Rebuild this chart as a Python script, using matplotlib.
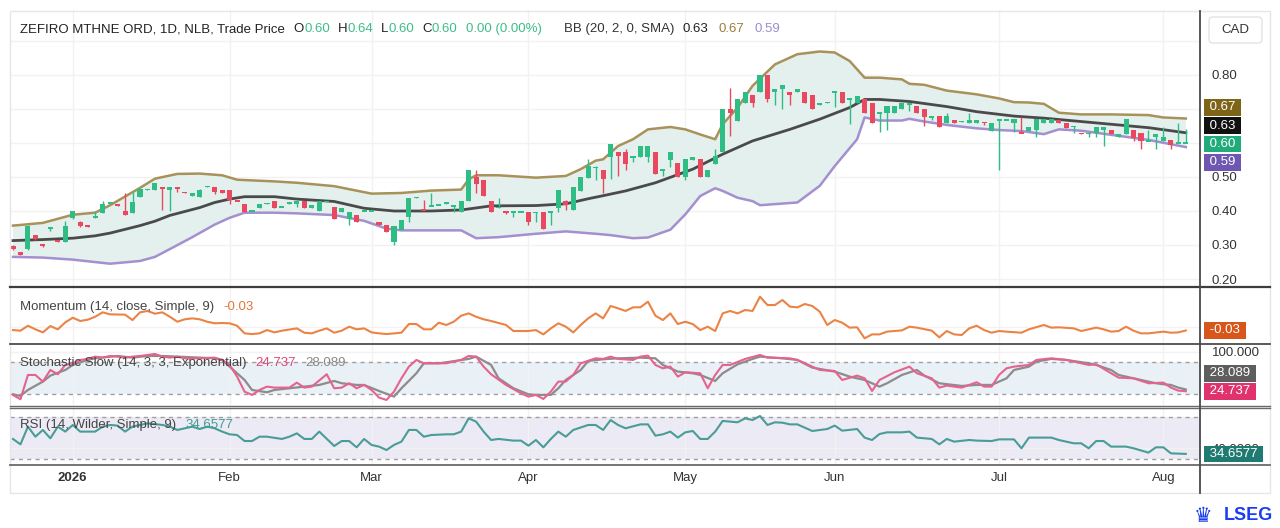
import numpy as np
import matplotlib.pyplot as plt
from matplotlib.lines import Line2D
from matplotlib.patches import Rectangle, FancyBboxPatch
from matplotlib.transforms import blended_transform_factory

plt.rcParams['font.family'] = ['Liberation Sans', 'DejaVu Sans']
plt.rcParams['font.size'] = 9.5

W, H = 1280, 528

# daily candles, one per trading bar (bar 0 = mid Dec 2025, bar 157 = 6 Aug 2026)
opens = [.298, .278, .288, .328, .302, .349, .312, .31, .378, .368,
         .356, .378, .395, .423, .42, .40, .395, .442, .462, .463,
         .468, .463, .468, .455, .445, .442, .471, .472, .463, .463,
         .431, .42, .399, .41, .421, .43, .411, .422, .42, .43,
         .408, .40, .427, .413, .398, .376, .388, .40, .399, .368,
         .358, .308, .345, .383, .439, .404, .414, .417, .42, .413,
         .398, .428, .50, .49, .43, .409, .399, .397, .397, .398,
         .395, .398, .397, .408, .428, .403, .46, .498, .525, .52,
         .559, .572, .572, .558, .559, .559, .572, .519, .549, .542,
         .50, .549, .552, .50, .539, .572, .70, .665, .718, .74,
         .75, .80, .75, .76, .75, .75, .75, .74, .711, .718,
         .749, .75, .729, .719, .728, .719, .688, .687, .687, .70,
         .714, .709, .70, .676, .679, .658, .668, .662, .66, .658,
         .661, .635, .667, .667, .66, .631, .635, .638, .66, .66,
         .668, .66, .647, .629, .627, .628, .638, .638, .617, .627,
         .638, .628, .605, .617, .606, .609, .599, .60]
highs = [.30, .28, .36, .33, .302, .352, .312, .37, .40, .37,
         .357, .40, .43, .427, .42, .452, .455, .466, .465, .482,
         .469, .472, .468, .455, .453, .464, .474, .472, .463, .463,
         .431, .42, .402, .42, .423, .43, .413, .424, .43, .43,
         .418, .43, .43, .413, .408, .398, .388, .402, .401, .368,
         .358, .355, .373, .438, .441, .433, .453, .419, .426, .416,
         .43, .521, .521, .49, .43, .438, .399, .399, .399, .398,
         .397, .398, .399, .461, .433, .471, .50, .553, .532, .52,
         .598, .572, .582, .56, .591, .591, .572, .521, .572, .542,
         .552, .559, .552, .52, .581, .70, .763, .728, .75, .74,
         .80, .80, .76, .77, .75, .76, .75, .74, .719, .72,
         .751, .75, .731, .738, .728, .719, .69, .709, .709, .719,
         .716, .709, .70, .678, .679, .687, .668, .664, .687, .668,
         .661, .66, .669, .669, .67, .677, .648, .67, .67, .67,
         .668, .66, .649, .629, .629, .648, .648, .638, .627, .67,
         .638, .628, .638, .627, .648, .609, .66, .64]
lows = [.285, .27, .285, .315, .295, .34, .31, .31, .375, .352,
        .353, .378, .395, .423, .415, .388, .395, .442, .462, .463,
        .402, .40, .455, .453, .445, .442, .471, .45, .452, .422,
        .429, .398, .398, .41, .421, .41, .411, .422, .412, .408,
        .408, .40, .426, .376, .398, .358, .368, .40, .399, .358,
        .338, .30, .345, .368, .439, .402, .414, .417, .42, .398,
        .398, .428, .453, .443, .398, .409, .391, .381, .397, .358,
        .368, .348, .358, .398, .403, .403, .46, .498, .49, .454,
        .493, .503, .52, .543, .559, .543, .51, .503, .53, .50,
        .49, .549, .50, .50, .539, .572, .621, .665, .718, .705,
        .75, .72, .713, .70, .713, .75, .719, .70, .711, .718,
        .705, .719, .655, .719, .689, .66, .633, .638, .687, .70,
        .694, .687, .651, .667, .648, .658, .658, .662, .66, .658,
        .654, .635, .52, .667, .633, .629, .635, .618, .66, .66,
        .658, .645, .63, .627, .618, .618, .59, .627, .617, .627,
        .606, .581, .605, .581, .606, .581, .599, .60]
closes = [.288, .272, .357, .317, .30, .351, .31, .357, .399, .357,
          .354, .385, .42, .425, .415, .388, .425, .465, .464, .481,
          .466, .472, .466, .453, .452, .462, .473, .457, .452, .433,
          .429, .398, .401, .42, .423, .41, .413, .424, .43, .41,
          .418, .43, .429, .376, .408, .398, .368, .402, .401, .358,
          .338, .355, .373, .438, .441, .402, .416, .419, .426, .416,
          .43, .521, .478, .443, .398, .411, .397, .399, .399, .368,
          .397, .348, .399, .461, .418, .471, .50, .533, .53, .493,
          .598, .562, .539, .56, .591, .591, .51, .521, .572, .50,
          .552, .559, .50, .52, .562, .70, .689, .728, .75, .719,
          .80, .73, .76, .77, .74, .76, .719, .70, .719, .72,
          .751, .719, .731, .738, .689, .66, .69, .709, .709, .719,
          .716, .687, .677, .678, .648, .679, .658, .664, .668, .668,
          .659, .66, .669, .669, .67, .629, .648, .67, .67, .67,
          .658, .645, .649, .627, .629, .648, .648, .627, .627, .67,
          .616, .606, .607, .627, .617, .594, .601, .60]

# Bollinger Bands (20, 2): (bar, value)
bb_up_x = [0, 4, 8, 11, 13, 17, 19, 22, 25, 28, 30, 35, 38, 43, 48, 52, 56, 60, 61, 62,
           65, 70, 74, 76, 78, 79, 81, 83, 85, 88, 90, 92, 94, 95, 97, 99, 102, 105, 108, 110,
           112, 114, 116, 119, 120, 122, 125, 129, 132, 134, 136, 138, 140, 143, 147, 152, 154, 157]
bb_up = [.357, .365, .389, .395, .417, .468, .495, .509, .51, .505, .492, .487, .483, .473, .451, .453, .46, .463, .493, .505,
         .505, .498, .503, .523, .548, .552, .591, .611, .64, .647, .64, .625, .611, .655, .704, .768, .831, .861, .869, .866,
         .841, .792, .792, .787, .774, .771, .754, .743, .731, .72, .719, .715, .689, .684, .684, .682, .675, .672]
bb_mid_x = [0, 4, 8, 11, 13, 17, 19, 21, 25, 27, 29, 31, 35, 38, 43, 47, 51, 56, 60, 64,
            70, 74, 77, 79, 82, 86, 91, 95, 99, 104, 108, 112, 114, 116, 120, 125, 129, 134, 138, 143,
            147, 152, 157]
bb_mid = [.313, .316, .32, .327, .335, .357, .37, .387, .41, .425, .435, .442, .442, .435, .428, .408, .40, .40, .403, .415,
          .416, .421, .436, .445, .459, .483, .523, .567, .606, .64, .67, .704, .728, .728, .722, .707, .692, .679, .673, .663,
          .655, .645, .63]
bb_lo_x = [0, 4, 8, 13, 17, 19, 21, 24, 27, 29, 31, 35, 38, 43, 47, 50, 52, 60, 62, 65,
           70, 74, 78, 80, 83, 85, 88, 90, 92, 94, 95, 97, 99, 100, 105, 108, 110, 113, 114, 116,
           119, 120, 122, 125, 129, 132, 135, 138, 140, 143, 147, 152, 157]
bb_lo = [.265, .263, .257, .245, .253, .265, .288, .323, .36, .38, .395, .395, .393, .388, .371, .348, .343, .343, .32, .323,
         .333, .34, .333, .329, .32, .322, .345, .39, .444, .467, .459, .439, .429, .417, .425, .474, .532, .611, .675, .666,
         .666, .671, .663, .653, .643, .638, .635, .626, .64, .636, .624, .609, .588]

# Momentum (14): (bar, value)
mom_pts = [(0, -.026), (1, -.032), (2, .015), (3, -.019), (4, -.048), (5, .012), (6, -.019), (7, .047), (8, .091),
           (9, .060), (10, .072), (11, .100), (12, .142), (13, .123), (15, .120), (16, .069), (17, .142), (18, .155),
           (19, .129), (20, .142), (21, .100), (22, .053), (23, .076), (24, .085), (25, .076), (26, .053), (27, .038),
           (28, .041), (29, .038), (30, .015), (31, -.057), (32, -.064), (33, -.057), (34, -.026), (35, -.048),
           (36, -.032), (38, -.010), (39, -.051), (40, -.057), (41, -.032), (42, -.010), (43, -.051), (44, -.032),
           (45, .006), (46, -.019), (47, -.010), (48, -.048), (49, -.057), (50, -.064), (52, -.051), (53, .031),
           (54, .031), (55, -.019), (56, -.019), (57, .044), (58, .022), (59, .053), (60, .110), (61, .132), (62, .100),
           (63, .076), (64, .060), (66, .022), (67, -.035), (69, -.035), (70, -.026), (71, -.067), (72, -.010),
           (73, .038), (74, .006), (75, -.048), (76, .022), (77, .085), (78, .132), (79, .085), (80, .202), (81, .180),
           (82, .155), (83, .189), (84, .190), (85, .243), (86, .110), (87, .069), (88, .132), (89, .031), (90, .053),
           (91, .031), (92, -.026), (93, .006), (94, -.035), (95, .132), (96, .155), (97, .132), (98, .164), (99, .155),
           (100, .290), (101, .211), (102, .211), (103, .259), (104, .196), (105, .189), (106, .221), (107, .202),
           (108, .148), (109, .022), (110, .069), (111, .044), (112, -.003), (113, .000), (114, -.104), (115, -.067),
           (116, -.067), (117, -.041), (119, -.029), (120, .006), (121, -.003), (123, -.032), (124, -.095),
           (125, -.035), (126, -.067), (127, -.073), (128, -.010), (129, .015), (130, -.026), (131, -.051),
           (132, -.035), (133, -.041), (135, -.051), (136, -.019), (138, .022), (139, -.003), (140, .000),
           (142, -.010), (143, -.035), (145, -.003), (146, -.019), (147, -.041), (148, -.035), (149, .006),
           (150, -.032), (151, -.057), (152, -.057), (154, -.041), (155, -.051), (156, -.048), (157, -.030)]

# Stochastic Slow %K and %D
stk_pts = [(0, 17.6), (1, 9.3), (2, 55.8), (3, 55.8), (4, 43.1), (5, 65.3), (6, 57.1), (7, 74.9), (8, 78.1), (9, 84.5),
           (10, 86.4), (11, 90.8), (12, 88.9), (13, 92.1), (14, 90.8), (15, 88.9), (16, 90.8), (17, 92.1), (19, 95.9),
           (20, 90.8), (21, 88.9), (22, 90.8), (23, 87.6), (25, 87.6), (27, 88.9), (28, 84.5), (29, 74.9), (30, 52.6),
           (31, 23.9), (32, 17.6), (33, 27.1), (34, 33.5), (35, 31.6), (37, 31.6), (38, 41.1), (39, 31.6), (40, 33.5),
           (42, 57.1), (43, 30.3), (44, 31.6), (45, 39.9), (46, 30.3), (47, 36.7), (48, 27.1), (49, 12.5), (50, 8.0),
           (51, 23.9), (52, 49.4), (53, 71.7), (54, 84.5), (55, 78.1), (56, 78.1), (57, 78.1), (58, 78.1), (60, 84.5),
           (61, 92.1), (62, 90.8), (63, 71.7), (64, 57.1), (66, 36.7), (68, 20.8), (69, 14.4), (70, 17.6), (71, 9.9),
           (72, 23.9), (73, 43.1), (74, 43.1), (75, 55.8), (76, 78.1), (78, 87.6), (79, 86.4), (80, 90.8), (81, 86.4),
           (83, 84.5), (84, 90.8), (85, 92.7), (86, 74.9), (87, 68.5), (88, 71.7), (89, 52.6), (90, 60.9), (92, 59.0),
           (93, 30.3), (94, 55.8), (95, 74.9), (96, 74.9), (98, 86.4), (100, 94.0), (101, 88.9), (104, 87.6),
           (105, 84.5), (107, 71.7), (108, 65.3), (110, 63.4), (111, 46.2), (113, 54.5), (114, 49.4), (115, 25.2),
           (116, 46.2), (118, 60.9), (120, 71.7), (121, 59.0), (123, 49.4), (124, 31.6), (125, 35.4), (127, 31.6),
           (129, 41.8), (130, 33.5), (131, 33.5), (132, 55.8), (133, 68.5), (134, 71.7), (136, 74.9), (137, 84.5),
           (139, 87.6), (141, 84.5), (142, 81.3), (144, 74.9), (145, 76.2), (147, 59.0), (148, 50.7), (150, 49.4),
           (152, 39.9), (154, 41.1), (155, 31.6), (156, 25.8), (157, 24.737)]
std_pts = [(0, 18.8), (1, 15.7), (2, 27.1), (4, 43.1), (5, 54.5), (7, 65.3), (8, 74.9), (10, 84.5), (11, 87.6),
           (14, 92.1), (16, 88.9), (18, 92.1), (20, 92.1), (22, 90.8), (25, 88.9), (27, 87.6), (28, 84.5), (29, 71.7),
           (31, 46.2), (32, 27.1), (34, 22.7), (35, 27.1), (37, 30.3), (39, 33.5), (41, 36.7), (43, 44.3), (44, 39.9),
           (46, 36.7), (47, 36.7), (49, 25.2), (51, 14.4), (52, 30.3), (54, 59.0), (55, 78.1), (57, 78.1), (58, 80.0),
           (61, 86.4), (62, 90.8), (64, 74.9), (65, 49.4), (67, 30.3), (69, 18.8), (70, 17.6), (72, 17.6), (73, 30.3),
           (74, 46.2), (76, 65.3), (77, 82.5), (79, 85.7), (81, 87.6), (84, 88.9), (86, 87.6), (87, 74.9), (89, 62.2),
           (91, 59.0), (92, 55.8), (94, 44.3), (95, 59.0), (97, 76.2), (99, 86.4), (100, 90.8), (103, 87.6),
           (105, 84.5), (107, 69.8), (110, 62.2), (112, 52.6), (114, 46.2), (116, 33.5), (117, 39.9), (119, 55.8),
           (121, 65.3), (122, 54.5), (124, 39.9), (127, 34.8), (129, 36.7), (131, 36.7), (133, 49.4), (134, 65.3),
           (136, 71.7), (137, 81.3), (139, 86.4), (141, 84.5), (144, 78.1), (145, 74.9), (147, 65.3), (148, 55.8),
           (151, 46.2), (153, 39.9), (154, 38.0), (155, 36.7), (156, 31.5), (157, 28.089)]

# RSI (14)
rsi_pts = [(0, 49.1), (1, 43.9), (2, 61.0), (3, 51.3), (4, 57.8), (5, 49.7), (6, 61.0), (7, 56.2), (8, 62.6), (9, 56.2),
           (11, 56.2), (12, 61.0), (13, 62.6), (14, 62.0), (15, 56.2), (16, 61.0), (17, 62.6), (18, 64.2), (20, 62.6),
           (21, 61.0), (22, 57.8), (23, 59.4), (24, 61.0), (25, 58.7), (26, 61.0), (27, 59.4), (28, 56.2), (29, 53.6),
           (30, 52.9), (31, 47.1), (32, 47.1), (33, 51.3), (34, 51.3), (36, 49.1), (37, 51.3), (38, 54.5), (39, 49.1),
           (40, 49.1), (41, 56.2), (43, 42.3), (44, 47.1), (45, 47.1), (46, 41.0), (47, 49.1), (48, 43.3), (49, 41.7),
           (50, 38.4), (51, 43.3), (52, 46.5), (53, 57.8), (54, 57.8), (55, 51.3), (56, 52.9), (58, 53.6), (59, 53.6),
           (60, 56.2), (61, 69.0), (62, 65.8), (63, 56.2), (64, 48.1), (65, 49.1), (67, 47.5), (68, 47.5), (69, 42.6),
           (70, 48.1), (71, 41.0), (72, 49.1), (73, 56.2), (74, 51.3), (75, 57.8), (77, 62.6), (78, 62.6), (79, 57.8),
           (80, 67.4), (81, 62.6), (82, 59.4), (84, 63.2), (85, 63.2), (86, 52.3), (87, 53.6), (88, 56.2), (89, 50.4),
           (90, 55.5), (91, 56.8), (92, 49.1), (93, 49.1), (94, 56.2), (95, 66.5), (97, 65.2), (98, 69.0), (99, 67.4),
           (100, 71.3), (101, 62.6), (102, 65.2), (103, 64.8), (104, 63.2), (105, 63.2), (107, 56.8), (108, 57.8),
           (109, 58.7), (110, 62.0), (111, 57.1), (113, 58.7), (114, 50.4), (115, 48.1), (116, 53.9), (117, 55.5),
           (119, 55.5), (120, 56.2), (121, 50.4), (123, 49.1), (124, 43.9), (125, 49.1), (126, 46.5), (128, 48.1),
           (129, 47.5), (131, 47.1), (132, 48.7), (134, 48.7), (135, 40.1), (136, 50.4), (138, 50.4), (139, 50.4),
           (140, 48.1), (142, 44.9), (143, 44.9), (144, 40.1), (145, 47.1), (146, 47.1), (147, 41.7), (149, 41.7),
           (150, 40.1), (152, 35.9), (153, 41.0), (154, 41.0), (155, 35.2), (157, 34.6577)]

tick_idx = [8, 29, 48, 69, 90, 110, 132, 154]
tick_lab = ['2026', 'Feb', 'Mar', 'Apr', 'May', 'Jun', 'Jul', 'Aug']

UP, DOWN = '#2ebd85', '#e9495f'
GRID = '#f2f2f2'
TXT = '#333333'

fig = plt.figure(figsize=(12.8, 5.28), dpi=100)


def box(top, bottom, left=10, right=1200):
    return [left / W, 1 - bottom / H, (right - left) / W, (bottom - top) / H]


ax_p = fig.add_axes(box(10, 287))
ax_m = fig.add_axes(box(288, 344))
ax_s = fig.add_axes(box(344.5, 405.5))
ax_r = fig.add_axes(box(407.5, 464))

for ax in (ax_p, ax_m, ax_s, ax_r):
    ax.set_xlim(-0.4, 158.9)
    for sp in ax.spines.values():
        sp.set_visible(False)
    ax.set_xticks(tick_idx)
    ax.grid(axis='x', color=GRID, lw=1)
    ax.grid(axis='y', color=GRID, lw=1)
    ax.set_axisbelow(True)
    ax.yaxis.tick_right()
    ax.tick_params(axis='y', length=0, pad=8.6, labelsize=9.5, labelcolor=TXT)
    ax.tick_params(axis='x', length=0, labelbottom=False)

# ---- price panel ----
o = np.array(opens); c = np.array(closes)
hi = np.array(highs); lo = np.array(lows)
xs = np.arange(len(o))
cols = np.where(c >= o, UP, DOWN)
ax_p.fill(np.concatenate([bb_up_x, bb_lo_x[::-1]]), np.concatenate([bb_up, bb_lo[::-1]]),
          color='#e4f0ee', lw=0, zorder=1)
ax_p.plot(bb_up_x, bb_up, color='#a8925a', lw=1.8, zorder=2)
ax_p.plot(bb_lo_x, bb_lo, color='#a48fcf', lw=1.8, zorder=2)
ax_p.plot(bb_mid_x, bb_mid, color='#4a4a4a', lw=2.0, zorder=2)
ax_p.vlines(xs, lo, hi, colors=cols, lw=1, zorder=3)
body_h = np.maximum(np.abs(c - o), 0.005)
body_b = (o + c) / 2 - body_h / 2
ax_p.bar(xs, body_h, bottom=body_b, width=0.68, color=cols, lw=0, zorder=4)
ax_p.set_ylim(0.1765, 0.991)
ax_p.set_yticks([0.2, 0.3, 0.4, 0.5, 0.6, 0.7, 0.8, 0.9])
# 0.60 / 0.70 sit under the last-value boxes, as on the reference
ax_p.set_yticklabels(['0.20', '0.30', '0.40', '0.50', '', '', '0.80', ''])

# ---- momentum ----
mx, mv = np.array(mom_pts).T
ax_m.plot(mx, mv, color='#eb8345', lw=1.5)
ax_m.set_ylim(-0.158, 0.3725)
ax_m.set_yticks([0])
ax_m.set_yticklabels([''])

# ---- stochastic ----
kx, kv = np.array(stk_pts).T
dx, dv = np.array(std_pts).T
ax_s.axhspan(20, 80, color='#e9f0f6', lw=0, zorder=0)
ax_s.axhline(80, color='#a0a0a0', lw=1, ls=(0, (3, 3)))
ax_s.axhline(20, color='#a0a0a0', lw=1, ls=(0, (3, 3)))
ax_s.plot(dx, dv, color='#8c8c8c', lw=1.6, zorder=3)
ax_s.plot(kx, kv, color='#e6628f', lw=1.5, zorder=4)
ax_s.set_ylim(-2.6, 114.0)
ax_s.set_yticks([100])
ax_s.set_yticklabels(['100.000'])

# ---- RSI ----
rx, rv = np.array(rsi_pts).T
ax_r.axhspan(30, 70, color='#ebeaf5', lw=0, zorder=0)
ax_r.axhline(70, color='#a0a0a0', lw=1, ls=(0, (3, 3)))
ax_r.axhline(30, color='#a0a0a0', lw=1, ls=(0, (3, 3)))
ax_r.plot(rx, rv, color='#4a9c97', lw=1.5, zorder=3)
ax_r.set_ylim(24.9, 79.5)
ax_r.set_yticks([40])
ax_r.set_yticklabels(['40.0000'])
ax_r.tick_params(axis='x', labelbottom=True, pad=6, labelsize=9.5, labelcolor=TXT)
ax_r.set_xticklabels(tick_lab)
ax_r.get_xticklabels()[0].set_fontweight('bold')


def value_box(ax, val, txt, bg, dy=0):
    tr = blended_transform_factory(ax.transAxes, ax.transData)
    ax.annotate(' ' + txt + ' ', xy=(1, val), xycoords=tr, xytext=(4.3, -dy * 0.72),
                textcoords='offset points', ha='left', va='center', color='white', fontsize=9.5,
                bbox=dict(boxstyle='square,pad=0.18', fc=bg, ec='none'),
                annotation_clip=False, zorder=20)


value_box(ax_p, 0.67, '0.67', '#7d6416', dy=-12)
value_box(ax_p, 0.63, '0.63', '#111111', dy=-7)
value_box(ax_p, 0.60, '0.60', '#22ab7a', dy=1)
value_box(ax_p, 0.59, '0.59', '#6e57b0', dy=16)
value_box(ax_m, -0.03, '-0.03', '#d8551c')
value_box(ax_s, 28.089, '28.089', '#5e5e5e', dy=-16)
value_box(ax_s, 24.737, '24.737', '#e0336d')
value_box(ax_r, 34.6577, '34.6577', '#1f7a72')

# ---- overlay in pixel coordinates for frame, legends and logo ----
ov = fig.add_axes([0, 0, 1, 1])
ov.set_xlim(0, W)
ov.set_ylim(H, 0)
ov.axis('off')
ov.patch.set_alpha(0)

ov.add_patch(Rectangle((10, 11), 1260, 482, fill=False, ec='#e6e6e6', lw=1))
ov.add_line(Line2D([10, 1270], [287, 287], color='#3d3d3d', lw=1.6))
ov.add_line(Line2D([10, 1270], [344.3, 344.3], color='#4d4d4d', lw=1.3))
ov.add_line(Line2D([10, 1270], [405.8, 405.8], color='#6a6a6a', lw=1))
ov.add_line(Line2D([10, 1270], [407.8, 407.8], color='#6a6a6a', lw=1))
ov.add_line(Line2D([10, 1270], [464.5, 464.5], color='#6a6a6a', lw=1.3))
ov.add_line(Line2D([1200, 1200], [11, 493], color='#4a4a4a', lw=1.3))

ov.add_patch(FancyBboxPatch((1209, 17), 53, 26, boxstyle='round,pad=0,rounding_size=4',
                            fc='white', ec='#e3e3e3', lw=1))
ov.text(1235.5, 30, 'CAD', ha='center', va='center', color=TXT, fontsize=9.5)


def chain(x, y, pieces):
    t = ov.text(x, y, pieces[0][0], color=pieces[0][1], ha='left', va='center', fontsize=9.5, zorder=10)
    for s, col, gap in pieces[1:]:
        t = ov.annotate(s, xy=(1, 0.5), xycoords=t, xytext=(gap * 0.72, 0), textcoords='offset points',
                        ha='left', va='center', color=col, fontsize=9.5, zorder=10)


G = '#3dbd8a'
chain(20, 29, [('ZEFIRO MTHNE ORD, 1D, NLB, Trade Price', '#222222'),
               ('O', '#222222', 9), ('0.60', G, 0), ('H', '#222222', 8), ('0.64', G, 0),
               ('L', '#222222', 8), ('0.60', G, 0), ('C', '#222222', 8), ('0.60', G, 0),
               ('0.00 (0.00%)', G, 8), ('BB (20, 2, 0, SMA)', '#333333', 22),
               ('0.63', '#222222', 9), ('0.67', '#9a7f3c', 10), ('0.59', '#9c8ccf', 10)])
chain(20, 307, [('Momentum (14, close, Simple, 9)', '#444444'), ('-0.03', '#e4763a', 9)])
chain(20, 363, [('Stochastic Slow (14, 3, 3, Exponential)', '#444444'),
                ('24.737', '#e0457b', 9), ('28.089', '#888888', 9)])
chain(20, 425, [('RSI (14, Wilder, Simple, 9)', '#444444'), ('34.6577', '#3f9c94', 9)])

ov.text(1203, 516, '\u265b', color='#1a3cf2', fontsize=15, ha='center', va='center', family='DejaVu Sans')
ov.text(1224, 516, 'LSEG', color='#1a3cf2', fontsize=13, fontweight='bold', ha='left', va='center')

fig.savefig('out.png', dpi=100, facecolor='white')
